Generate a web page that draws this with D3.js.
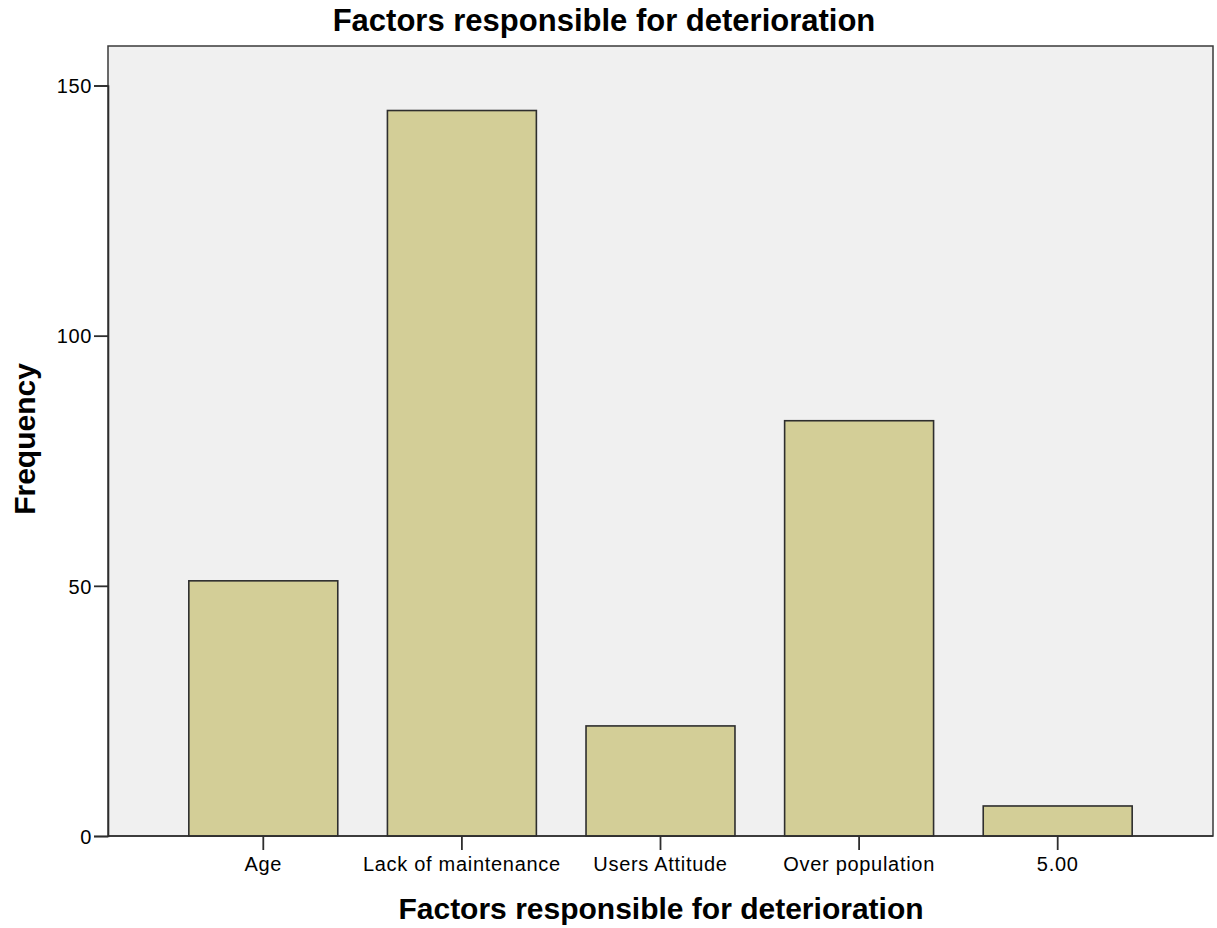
<!DOCTYPE html>
<html>
<head>
<meta charset="utf-8">
<script src="https://cdn.jsdelivr.net/npm/d3@7/dist/d3.min.js"></script>
<style>
  html, body { margin: 0; padding: 0; background: #ffffff; }
  svg { display: block; }
  text { font-family: Arial, "Liberation Sans", sans-serif; fill: #000; }
</style>
</head>
<body>
<svg id="chart" width="1217" height="928"></svg>
<script>
const categories = ["Age", "Lack of maintenance", "Users Attitude", "Over population", "5.00"];
const frequencies = [51, 145, 22, 83, 6];
const yTicks = [0, 50, 100, 150];
const chartTitle = "Factors responsible for deterioration";
const xTitle = "Factors responsible for deterioration";
const yTitle = "Frequency";

const svg = d3.select("#chart");
const plot = { left: 108, right: 1213, top: 46, bottom: 836 };
const inset = 56;

const x = d3.scaleBand()
  .domain(categories)
  .range([plot.left + inset, plot.right - inset])
  .paddingInner(0.25)
  .paddingOuter(0.125);

const y = d3.scaleLinear()
  .domain([0, 150])
  .range([plot.bottom, plot.bottom - 750.5]);

// plot background
svg.append("rect")
  .attr("x", plot.left).attr("y", plot.top)
  .attr("width", plot.right - plot.left).attr("height", plot.bottom - plot.top)
  .attr("fill", "#f0f0f0")
  .attr("stroke", "#3a3a3a").attr("stroke-width", 1.5);

// bars
svg.append("g").selectAll("rect")
  .data(categories.map((c, i) => ({ c, v: frequencies[i] })))
  .join("rect")
  .attr("x", d => x(d.c))
  .attr("y", d => y(d.v))
  .attr("width", x.bandwidth())
  .attr("height", d => y(0) - y(d.v))
  .attr("fill", "#d3ce97")
  .attr("stroke", "#2e2e2e")
  .attr("stroke-width", 1.6);

const tickFont = "Arial, 'Liberation Sans', sans-serif";

// y axis
const yAxis = d3.axisLeft(y).tickValues(yTicks).tickSize(14).tickPadding(2).tickFormat(d3.format("d"));
const gy = svg.append("g").attr("transform", `translate(${plot.left},0)`).call(yAxis);
gy.select(".domain").attr("stroke", "#2e2e2e").attr("stroke-width", 1.6);
gy.selectAll(".tick line").attr("stroke", "#2e2e2e").attr("stroke-width", 1.8);
gy.selectAll(".tick text").attr("font-size", 20).attr("fill", "#222")
  .attr("dy", "0.36em")
  .style("letter-spacing", "0.6px")
  .style("font-family", tickFont);

// x axis
const xAxis = d3.axisBottom(x).tickSize(14).tickPadding(6);
const gx = svg.append("g").attr("transform", `translate(0,${plot.bottom})`).call(xAxis);
gx.select(".domain").attr("stroke", "#2e2e2e").attr("stroke-width", 1.6)
  .attr("d", `M${plot.left},0H${plot.right}`);
gx.selectAll(".tick line").attr("stroke", "#2e2e2e").attr("stroke-width", 1.8);
gx.selectAll(".tick text").attr("font-size", 20).attr("fill", "#222")
  .attr("y", 35).attr("dy", 0)
  .style("letter-spacing", "0.7px")
  .style("font-family", tickFont);

// titles
svg.append("text")
  .attr("x", 604).attr("y", 31)
  .attr("text-anchor", "middle")
  .attr("font-size", 31).attr("font-weight", "bold")
  .text(chartTitle);

svg.append("text")
  .attr("x", 661).attr("y", 919)
  .attr("text-anchor", "middle")
  .attr("font-size", 30).attr("font-weight", "bold")
  .text(xTitle);

svg.append("text")
  .attr("transform", "translate(35,439) rotate(-90)")
  .attr("text-anchor", "middle")
  .attr("font-size", 30).attr("font-weight", "bold")
  .text(yTitle);
</script>
</body>
</html>
